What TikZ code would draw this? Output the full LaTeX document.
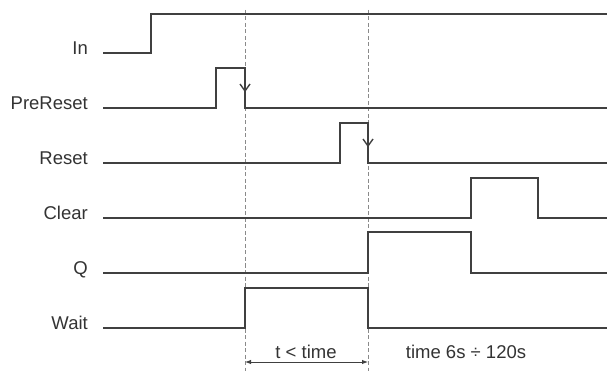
\documentclass[tikz,border=0pt]{standalone}
\usepackage{fontspec}
\setmainfont{Liberation Sans}
\usetikzlibrary{arrows.meta}
\definecolor{wavecol}{HTML}{404040}
\definecolor{guidecol}{HTML}{8A8A8A}
\definecolor{labelcol}{HTML}{333333}
\begin{document}
\begin{tikzpicture}[x=1pt,y=-1pt,
  wave/.style={draw=wavecol, line width=1.4pt, line join=miter},
  guide/.style={draw=guidecol, line width=0.8pt, dash pattern=on 4pt off 2.5pt},
  sig/.style={anchor=base east, font=\fontsize{18.5}{20}\selectfont, text=labelcol, inner sep=0pt},
  note/.style={anchor=base, font=\fontsize{18.5}{20}\selectfont, text=labelcol, inner sep=0pt},
  barb/.style={draw=wavecol, line width=1.4pt}]
\useasboundingbox (0,0) rectangle (607,371);
% guide lines
\coordinate (g1t) at (245,10); \coordinate (g1b) at (245,371);
\coordinate (g2t) at (368,10); \coordinate (g2b) at (368,371);
\draw[guide] (g1t) -- (g1b);
\draw[guide] (g2t) -- (g2b);
% labels
\node[sig] (lIn) at (88,54.5) {In};
\node[sig] (lPre) at (88,109.5) {PreReset};
\node[sig] (lRes) at (88,164.5) {Reset};
\node[sig] (lClr) at (88,219.5) {Clear};
\node[sig] (lQ) at (88,274.5) {Q};
\node[sig] (lWait) at (88,329.5) {Wait};
% waveforms
\draw[wave] (103,53) -- (151,53) -- (151,14) -- (607,14);
\draw[wave] (103,108) -- (216,108) -- (216,68) -- (245,68) -- (245,108) -- (607,108);
\draw[wave] (103,163) -- (340,163) -- (340,123) -- (368,123) -- (368,163) -- (607,163);
\draw[wave] (103,218) -- (471,218) -- (471,178) -- (538,178) -- (538,218) -- (607,218);
\draw[wave] (103,273) -- (368,273) -- (368,232) -- (471,232) -- (471,273) -- (607,273);
\draw[wave] (103,328) -- (245,328) -- (245,288) -- (368,288) -- (368,328) -- (607,328);
% falling edge markers
\draw[barb] (240,84) -- (245,91) -- (250,84);
\draw[barb] (363,139) -- (368,146) -- (373,139);
% dimension
\coordinate (d1) at (245,362); \coordinate (d2) at (368,362);
\draw[draw=wavecol, line width=1pt, {Latex[length=6pt,width=4.5pt]}-{Latex[length=6pt,width=4.5pt]}] (d1) -- (d2);
\node[note] (t1) at (306,358) {t < time};
\node[note] (t2) at (466,358) {time 6s ÷ 120s};
\end{tikzpicture}
\end{document}
